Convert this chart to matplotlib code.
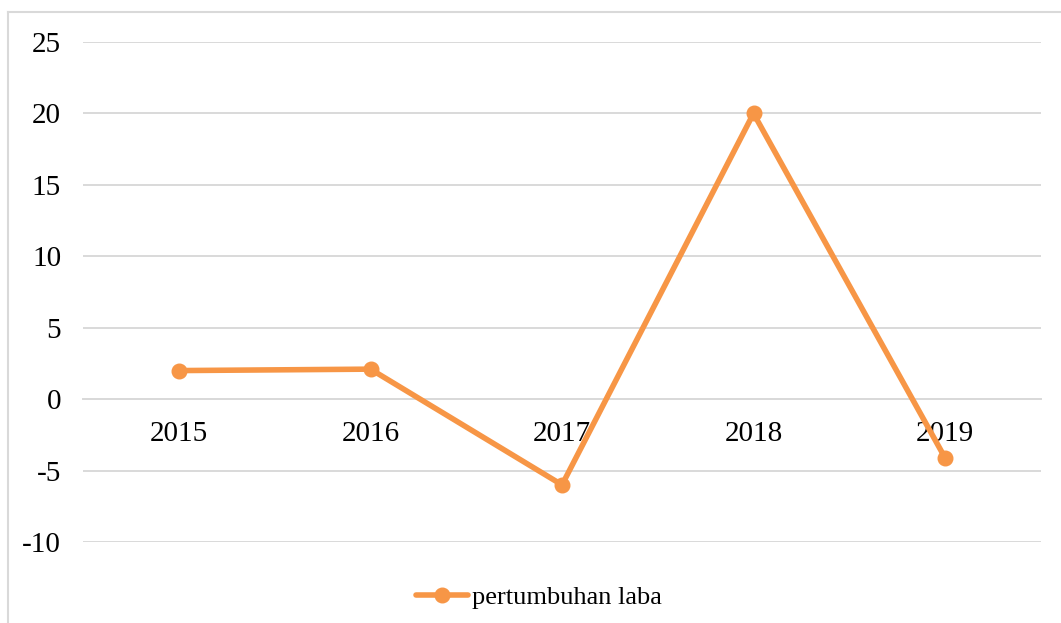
import matplotlib
matplotlib.use("Agg")
import matplotlib.pyplot as plt
from matplotlib.lines import Line2D

years = ["2015", "2016", "2017", "2018", "2019"]
laba = [2.0, 2.1, -6.0, 20.0, -4.1]
yticks = [-10, -5, 0, 5, 10, 15, 20, 25]

plt.rcParams['font.family'] = ['Liberation Serif', 'DejaVu Serif']

fig = plt.figure(figsize=(10.61, 6.23), dpi=100)
ax = fig.add_axes([0.0785, 0.130, 0.9024, 0.8026])

grid_c = "#D9D9D9"
orange = "#F79646"

x = list(range(len(years)))
ax.plot(x, laba, color=orange, lw=4, marker='o', markersize=10.5,
        solid_capstyle='round', zorder=3, label="pertumbuhan laba")

ax.set_xlim(-0.5, len(years) - 0.5)
ax.set_ylim(-10, 25)
ax.set_yticks(yticks)
ax.set_yticklabels([str(v) for v in yticks], fontsize=21)
ax.yaxis.grid(True, color=grid_c, lw=1.4)
ax.set_axisbelow(True)

# category axis crosses at zero
ax.spines['bottom'].set_position(('data', 0))
ax.spines['bottom'].set_color(grid_c)
ax.spines['bottom'].set_linewidth(1.4)
for s in ['top', 'right', 'left']:
    ax.spines[s].set_visible(False)
ax.set_xticks(x)
ax.set_xticklabels(years, fontsize=21)
ax.tick_params(axis='x', length=0, pad=16)
ax.tick_params(axis='y', length=0, pad=16)

# chart area border (left and top visible)
fig.add_artist(Line2D([8 / 1061, 8 / 1061], [0, 1 - 12 / 623],
                      transform=fig.transFigure, color=grid_c, lw=1.5))
fig.add_artist(Line2D([8 / 1061, 1], [1 - 12 / 623, 1 - 12 / 623],
                      transform=fig.transFigure, color=grid_c, lw=1.5))

fig.legend(loc='center', bbox_to_anchor=(539 / 1061, 1 - 597 / 623),
           frameon=False, fontsize=19, handlelength=2.0, handletextpad=0.15)

fig.savefig("out.png", dpi=100)
